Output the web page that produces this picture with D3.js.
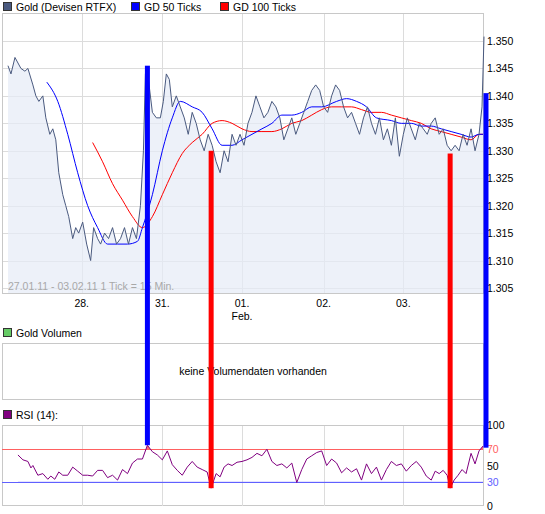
<!DOCTYPE html>
<html><head><meta charset="utf-8">
<script src="https://cdn.jsdelivr.net/npm/d3@7"></script>
<style>body{margin:0;background:#fff}text{font-family:"Liberation Sans",Arial,sans-serif;font-size:10.5px}</style>
</head><body><svg id="c" width="545" height="514"></svg>
<script>
// t = tick index (15-min ticks)
const price = [[0,1.3455],[3,1.344],[7,1.347],[13,1.345],[17,1.3445],[20,1.345],[25,1.342],[28,1.340],[31,1.339],[35,1.340],[38,1.336],[42,1.333],[45,1.334],[48,1.332],[51,1.326],[55,1.322],[58,1.320],[61,1.318],[65,1.314],[68,1.316],[71,1.315],[75,1.317],[79,1.313],[83,1.310],[86,1.316],[90,1.314],[93,1.313],[97,1.315],[101,1.314],[105,1.316],[109,1.313],[113,1.314],[117,1.316],[121,1.313],[125,1.316],[129,1.314],[133,1.320],[136,1.330],[138,1.344],[141,1.343],[145,1.337],[149,1.336],[153,1.336],[156,1.339],[159,1.344],[162,1.343],[165,1.338],[169,1.340],[173,1.338],[177,1.336],[181,1.333],[185,1.337],[189,1.335],[193,1.332],[197,1.330],[201,1.333],[205,1.331],[209,1.328],[213,1.326],[217,1.330],[221,1.328],[225,1.333],[229,1.331],[233,1.333],[237,1.331],[241,1.335],[245,1.337],[249,1.340],[253,1.338],[257,1.336],[261,1.337],[265,1.339],[269,1.338],[273,1.336],[277,1.332],[281,1.334],[285,1.336],[289,1.333],[293,1.335],[297,1.337],[301,1.339],[305,1.341],[309,1.342],[313,1.341],[317,1.338],[321,1.337],[325,1.340],[329,1.342],[333,1.341],[337,1.338],[341,1.336],[345,1.337],[349,1.335],[353,1.333],[357,1.336],[361,1.338],[365,1.335],[369,1.333],[373,1.336],[377,1.332],[381,1.334],[385,1.331],[389,1.336],[393,1.329],[397,1.333],[401,1.336],[405,1.334],[409,1.332],[413,1.335],[417,1.334],[421,1.333],[425,1.335],[429,1.336],[433,1.333],[437,1.334],[441,1.331],[445,1.330],[449,1.331],[453,1.330],[457,1.333],[461,1.331],[465,1.334],[469,1.330],[473,1.333],[476,1.338],[478,1.3508]];
const gd50 = [[39,1.3425],[50,1.339],[60,1.333],[70,1.326],[80,1.320],[90,1.316],[100,1.313],[110,1.313],[120,1.313],[130,1.3135],[135,1.316],[145,1.322],[155,1.330],[165,1.336],[173,1.339],[185,1.338],[195,1.337],[205,1.334],[215,1.331],[225,1.331],[235,1.332],[245,1.333],[255,1.334],[265,1.335],[275,1.3365],[285,1.3365],[295,1.337],[305,1.338],[315,1.338],[330,1.339],[340,1.3395],[350,1.339],[360,1.338],[370,1.336],[385,1.3355],[395,1.335],[405,1.335],[415,1.3345],[425,1.3345],[435,1.334],[445,1.3335],[455,1.333],[465,1.3325],[473,1.333],[477,1.333]];
const gd100 = [[85,1.3315],[95,1.328],[105,1.324],[115,1.321],[125,1.318],[135,1.316],[145,1.318],[155,1.322],[165,1.326],[175,1.3295],[185,1.3315],[195,1.333],[205,1.335],[215,1.3355],[225,1.335],[235,1.334],[245,1.3335],[255,1.3335],[265,1.3335],[275,1.334],[285,1.335],[295,1.3355],[305,1.3365],[315,1.3375],[325,1.338],[335,1.338],[345,1.338],[355,1.3375],[365,1.337],[375,1.337],[385,1.3365],[395,1.336],[405,1.3355],[415,1.335],[425,1.334],[435,1.3335],[445,1.333],[455,1.3325],[465,1.332],[473,1.333],[477,1.333]];
const rsi = [[10,63],[15,57],[20,55],[23,47],[25,50],[30,38],[35,40],[40,33],[43,37],[47,33],[51,42],[55,38],[60,38],[65,48],[70,43],[75,38],[80,38],[85,37],[90,44],[95,44],[100,35],[105,38],[110,32],[115,45],[120,40],[125,53],[130,58],[135,58],[140,75],[145,67],[150,63],[155,57],[160,68],[165,51],[170,44],[175,38],[180,48],[185,55],[190,48],[195,45],[200,42],[204,22],[209,40],[213,36],[217,48],[221,52],[225,50],[230,54],[235,55],[240,57],[245,60],[250,65],[255,62],[260,70],[265,55],[270,50],[275,52],[280,47],[285,53],[290,29],[295,45],[300,58],[305,62],[310,66],[315,68],[320,50],[325,58],[330,53],[335,41],[340,47],[345,42],[350,46],[355,32],[360,52],[365,40],[370,48],[375,32],[380,45],[385,55],[390,50],[395,52],[400,43],[405,50],[410,55],[415,48],[420,37],[425,32],[429,43],[433,40],[437,44],[441,38],[444,22],[448,32],[452,38],[456,45],[460,40],[465,65],[469,52],[473,68],[477,74]];
const dateTicks = [[74,"28."],[155,"31."],[235,"01."],[317,"02."],[397,"03."]];
const priceTicks = [1.305,1.310,1.315,1.320,1.325,1.330,1.335,1.340,1.345,1.350];
const rsiTicks = [0,30,50,70,100];
const signals = [[140,1.3455,75,"#0000ff"],[204,1.330,22,"#ff0000"],[444,1.3295,22,"#ff0000"],[480,1.3405,72,"#0000ff"]];
const legend = [["Gold (Devisen RTFX)","#4a5a7f",3],["GD 50 Ticks","#0000ff",131],["GD 100 Ticks","#ff0000",220]];

const svg = d3.select("#c");
const L=2,R=483;
const x = d3.scaleLinear().domain([-3,478]).range([5,484]);
const y = d3.scaleLinear().domain([1.305,1.350]).range([288,41]);
const yr = d3.scaleLinear().domain([0,100]).range([506,425]);
const grid="#dcdcdc", frame="#c8c8c8";

legend.forEach(([t,c,lx])=>{
  svg.append("rect").attr("x",lx+0.5).attr("y",2.5).attr("width",8).attr("height",8).attr("fill",c).attr("stroke","#333");
  svg.append("text").attr("x",lx+13).attr("y",10.5).text(t);
});

const mt=13,mb=293;
svg.append("rect").attr("x",L).attr("y",mt).attr("width",R-L).attr("height",mb-mt).attr("fill","#fff");
priceTicks.forEach(v=>svg.append("line").attr("x1",L).attr("x2",R).attr("y1",Math.round(y(v))+.5).attr("y2",Math.round(y(v))+.5).attr("stroke",grid));
dateTicks.forEach(([t])=>svg.append("line").attr("x1",Math.round(x(t))+.5).attr("x2",Math.round(x(t))+.5).attr("y1",mt).attr("y2",mb).attr("stroke",grid));
svg.append("path").datum(price).attr("fill","#e6ebf7").attr("fill-opacity",0.7)
  .attr("d",d3.area().x(d=>x(d[0])).y0(mb).y1(d=>y(d[1])));
svg.append("rect").attr("x",L+.5).attr("y",mt+.5).attr("width",R-L).attr("height",mb-mt).attr("fill","none").attr("stroke",frame);
svg.append("text").attr("x",8).attr("y",290).attr("fill","#a8a8a8").text("27.01.11 - 03.02.11   1 Tick = 15 Min.");
const ln=d3.line().x(d=>x(d[0])).y(d=>y(d[1]));
svg.append("path").datum(gd100).attr("d",ln.curve(d3.curveMonotoneX)).attr("fill","none").attr("stroke","#ff0000");
svg.append("path").datum(gd50).attr("d",ln.curve(d3.curveMonotoneX)).attr("fill","none").attr("stroke","#0000ff");
svg.append("path").datum(price).attr("d",d3.line().x(d=>x(d[0])).y(d=>y(d[1]))).attr("fill","none").attr("stroke","#4a5a7f");
priceTicks.forEach(v=>svg.append("text").attr("x",487).attr("y",y(v)+4).text(v.toFixed(3)));
dateTicks.forEach(([t,s])=>{
  svg.append("text").attr("x",x(t)).attr("y",307).attr("text-anchor","middle").text(s);
  if(s==="01.") svg.append("text").attr("x",x(t)).attr("y",320).attr("text-anchor","middle").text("Feb.");
});

svg.append("rect").attr("x",3.5).attr("y",328.5).attr("width",8).attr("height",8).attr("fill","#66cc66").attr("stroke","#333");
svg.append("text").attr("x",16).attr("y",336.5).text("Gold Volumen");
svg.append("rect").attr("x",L+.5).attr("y",343.5).attr("width",R-L).attr("height",56).attr("fill","#fff").attr("stroke",frame);
svg.append("text").attr("x",253).attr("y",375).attr("text-anchor","middle").attr("font-size","12px").text("keine Volumendaten vorhanden");

svg.append("rect").attr("x",3.5).attr("y",410.5).attr("width",8).attr("height",8).attr("fill","#800080").attr("stroke","#333");
svg.append("text").attr("x",16).attr("y",418.5).text("RSI (14):");
svg.append("rect").attr("x",L+.5).attr("y",425.5).attr("width",R-L).attr("height",80).attr("fill","#fff").attr("stroke",frame);
dateTicks.forEach(([t])=>svg.append("line").attr("x1",Math.round(x(t))+.5).attr("x2",Math.round(x(t))+.5).attr("y1",426).attr("y2",506).attr("stroke",grid));
const defs=svg.append("defs");
defs.append("clipPath").attr("id","hi").append("rect").attr("x",0).attr("y",0).attr("width",545).attr("height",yr(70));
defs.append("clipPath").attr("id","lo").append("rect").attr("x",0).attr("y",yr(30)).attr("width",545).attr("height",100);
svg.append("path").datum(rsi).attr("clip-path","url(#hi)").attr("fill","#ff7070")
  .attr("d",d3.area().x(d=>x(d[0])).y0(yr(70)).y1(d=>yr(d[1])));
svg.append("path").datum(rsi).attr("clip-path","url(#lo)").attr("fill","#7070ff")
  .attr("d",d3.area().x(d=>x(d[0])).y0(yr(30)).y1(d=>yr(d[1])));
svg.append("line").attr("x1",L).attr("x2",R).attr("y1",Math.round(yr(70))+.5).attr("y2",Math.round(yr(70))+.5).attr("stroke","#ff6060");
svg.append("line").attr("x1",L).attr("x2",R).attr("y1",Math.round(yr(30))+.5).attr("y2",Math.round(yr(30))+.5).attr("stroke","#6060ff");
svg.append("path").datum(rsi).attr("d",d3.line().x(d=>x(d[0])).y(d=>yr(d[1]))).attr("fill","none").attr("stroke","#800080");
rsiTicks.forEach(v=>svg.append("text").attr("x",487).attr("y",yr(v)+4)
  .attr("fill",v===70?"#ff6060":v===30?"#6060ff":"#000").text(v));

signals.forEach(([t,p,r,c])=>svg.append("rect").attr("x",x(t)-2.5).attr("width",5)
  .attr("y",y(p)).attr("height",yr(r)-y(p)).attr("fill",c));
</script></body></html>
